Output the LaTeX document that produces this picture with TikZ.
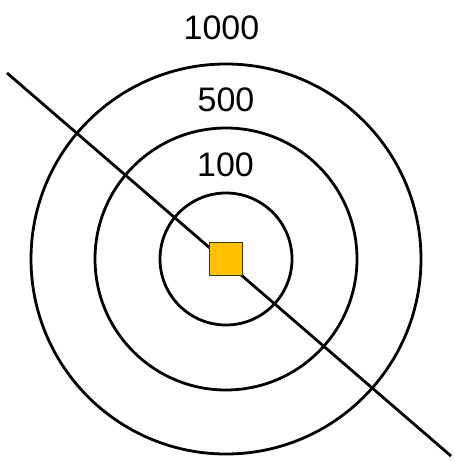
\documentclass[tikz,border=0pt]{standalone}
\usepackage{fontspec}
\setmainfont{Liberation Sans}
\definecolor{boxfill}{HTML}{FFC000}
\definecolor{boxedge}{HTML}{3A3A10}
\begin{document}
\begin{tikzpicture}[x=1pt, y=-1pt, ring/.style={line width=2.8pt}, lbl/.style={font=\fontsize{34}{40}\selectfont, inner sep=0pt}]
	\useasboundingbox (0,0) rectangle (454,462);
	\coordinate (c) at (226,259);
	\draw[ring] (c) circle (66);
	\draw[ring] (c) circle (131);
	\draw[ring] (c) circle (195);
	\coordinate (p) at (7,73);
	\coordinate (q) at (451,456);
	\draw[line width=2.8pt] (p) -- (q);
	\node[draw=boxedge, line width=1.5pt, fill=boxfill, minimum size=33pt, inner sep=0pt] (src) at (c) {};
	\node[lbl] (r1000) at (221.5,27.5) {1000};
	\node[lbl] (r500) at (226,99.5) {500};
	\node[lbl] (r100) at (225.5,165) {100};
\end{tikzpicture}
\end{document}
